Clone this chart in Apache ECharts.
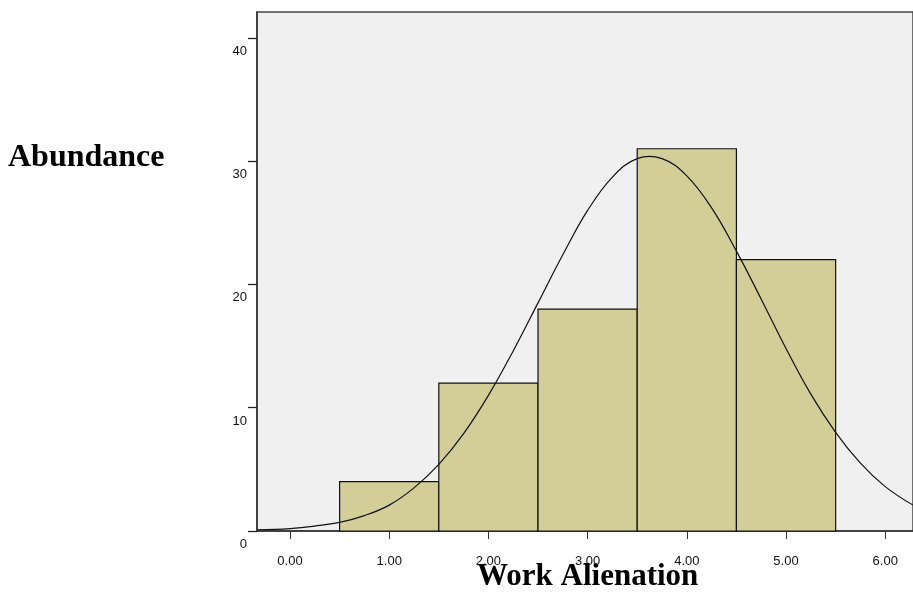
<!DOCTYPE html>
<html>
<head>
<meta charset="utf-8">
<script src="https://cdn.jsdelivr.net/npm/echarts@6/dist/echarts.min.js"></script>
<style>
html,body{margin:0;padding:0;background:#fff;}
#chart{width:913px;height:594px;}
</style>
</head>
<body>
<div id="chart"></div>
<script>
// Histogram bins (Work Alienation) and frequencies
var binStarts = [0.5, 1.5, 2.5, 3.5, 4.5];
var binEnds   = [1.5, 2.5, 3.5, 4.5, 5.5];
var counts    = [4, 12, 18, 31, 22];

// Normal curve points
var curveX = [-0.33, 0, 0.25, 0.5, 0.75, 1.0, 1.25, 1.5, 1.75, 2.0, 2.25, 2.5, 2.75, 3.0, 3.25, 3.5, 3.75, 4.0, 4.25, 4.5, 4.75, 5.0, 5.25, 5.5, 5.75, 6.0, 6.28];
var curveY = [0.1, 0.2, 0.4, 0.7, 1.25, 2.1, 3.5, 5.4, 7.9, 11.0, 14.6, 18.5, 22.4, 26.0, 28.7, 30.2, 30.2, 28.8, 26.2, 22.7, 18.8, 14.8, 11.1, 8.0, 5.5, 3.6, 2.1];

var xTicks = [0, 1, 2, 3, 4, 5, 6];
var yTicks = [0, 10, 20, 30, 40];

var histData = binStarts.map(function (s, i) { return [s, binEnds[i], counts[i]]; });
var curveData = curveX.map(function (x, i) { return [x, curveY[i]]; });

var chart = echarts.init(document.getElementById('chart'));
chart.setOption({
  animation: false,
  backgroundColor: '#ffffff',
  grid: {
    left: 257, top: 12, right: 0, bottom: 63,
    show: true, backgroundColor: '#F0F0F0', borderColor: '#444', borderWidth: 1.5
  },
  xAxis: {
    type: 'value', min: -0.3327, max: 6.28,
    axisLine: { show: true, onZero: false, lineStyle: { color: '#333', width: 1.5 } },
    axisTick: { show: true, length: 8, customValues: xTicks, lineStyle: { color: '#333' } },
    axisLabel: {
      customValues: xTicks, margin: 24, fontSize: 13, color: '#111',
      fontFamily: 'Liberation Sans, Arial, sans-serif',
      formatter: function (v) { return v.toFixed(2); }
    },
    splitLine: { show: false }
  },
  yAxis: {
    type: 'value', min: 0, max: 42.09,
    axisLine: { show: true, onZero: false, lineStyle: { color: '#333', width: 1.5 } },
    axisTick: { show: true, length: 9, customValues: yTicks, lineStyle: { color: '#222', width: 1.3 } },
    axisLabel: {
      customValues: yTicks, margin: 10, fontSize: 13, color: '#111',
      fontFamily: 'Liberation Sans, Arial, sans-serif',
      verticalAlign: 'top', padding: [7, 0, 0, 0]
    },
    splitLine: { show: false }
  },
  series: [
    {
      type: 'custom',
      data: histData,
      encode: { x: [0, 1], y: 2 },
      renderItem: function (params, api) {
        var p0 = api.coord([api.value(0), api.value(2)]);
        var p1 = api.coord([api.value(1), 0]);
        return {
          type: 'rect',
          shape: { x: p0[0], y: p0[1], width: p1[0] - p0[0], height: p1[1] - p0[1] },
          style: { fill: '#D3CE98', stroke: '#111', lineWidth: 1.2 }
        };
      },
      z: 2
    },
    {
      type: 'custom',
      data: curveData,
      encode: { x: 0, y: 1 },
      renderItem: function (params, api) {
        if (params.dataIndex !== 0) return null;
        var pts = curveData.map(function (p) { return api.coord(p); });
        return {
          type: 'polyline',
          shape: { points: pts, smooth: 0.4 },
          style: { stroke: '#111', lineWidth: 1.2, fill: null }
        };
      },
      z: 3
    }
  ],
  graphic: [
    {
      type: 'text', left: 8, top: 142,
      style: { text: 'Abundance', font: 'bold 32px "Liberation Serif", "Times New Roman", serif', fill: '#000' }
    },
    {
      type: 'text', left: 477, top: 561,
      style: { text: 'Work Alienation', font: 'bold 31px "Liberation Serif", "Times New Roman", serif', fill: '#000' }
    }
  ]
});
</script>
</body>
</html>
